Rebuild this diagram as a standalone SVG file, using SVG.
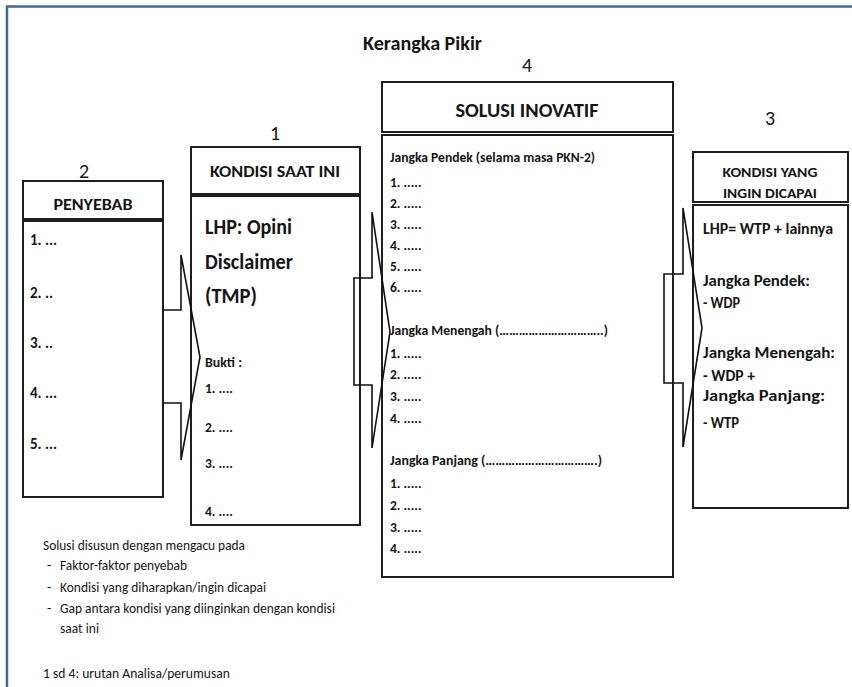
<svg xmlns="http://www.w3.org/2000/svg" width="852" height="687" viewBox="0 0 852 687">
<style>
.frame{stroke:#41679c;stroke-width:2.5;fill:none}
.box{fill:#fff;stroke:#1f1f1f;stroke-width:2}
.arr{fill:none;stroke:#111;stroke-width:1.6;stroke-linejoin:miter}
text{font-family:Carlito,Lato,"Open Sans","Liberation Sans",sans-serif;fill:#151515}
.num{font-size:20px;font-weight:400;text-anchor:middle}
.hd{font-weight:700;text-anchor:middle}
.b{font-weight:700}
.sb{font-weight:700;font-size:13.5px}
.note{font-size:14px;font-weight:400}
</style>
<rect width="852" height="687" fill="#fff"/>
<path class="frame" d="M7 687 V6.5 H852"/>
<text x="363" y="50" font-size="20" font-weight="700" textLength="119" lengthAdjust="spacingAndGlyphs">Kerangka Pikir</text>

<g id="penyebab">
<text class="num" x="84" y="178">2</text>
<rect class="box" x="23" y="181" width="140" height="38"/>
<text class="hd" x="93" y="210" font-size="15.5" textLength="79" lengthAdjust="spacingAndGlyphs">PENYEBAB</text>
<rect class="box" x="23" y="221" width="140" height="276"/>
<g class="b" font-size="15">
<text x="30" y="245">1.  ...</text>
<text x="30" y="298">2.  ..</text>
<text x="30" y="348">3.  ..</text>
<text x="30" y="398">4.  ...</text>
<text x="30" y="449">5.  ...</text>
</g>
</g>

<g id="kondisi-saat-ini">
<text class="num" x="275" y="140">1</text>
<rect class="box" x="191" y="147" width="169" height="47"/>
<text class="hd" x="275" y="177" font-size="16.5" textLength="130" lengthAdjust="spacingAndGlyphs">KONDISI SAAT INI</text>
<rect class="box" x="191" y="196" width="169" height="329"/>
<g class="b" font-size="22">
<text x="205" y="234" textLength="87" lengthAdjust="spacingAndGlyphs">LHP: Opini</text>
<text x="205" y="269" textLength="88" lengthAdjust="spacingAndGlyphs">Disclaimer</text>
<text x="205" y="303" textLength="52" lengthAdjust="spacingAndGlyphs">(TMP)</text>
</g>
<g class="b" font-size="13.5">
<text x="205" y="367" textLength="37" lengthAdjust="spacingAndGlyphs">Bukti :</text>
<text x="205" y="393">1.   ....</text>
<text x="205" y="432">2.   ....</text>
<text x="205" y="468">3.   ....</text>
<text x="205" y="516">4.   ....</text>
</g>
</g>

<g id="solusi-inovatif">
<text class="num" x="527" y="72">4</text>
<rect class="box" x="382" y="82" width="291" height="50"/>
<text class="hd" x="527" y="117" font-size="21" textLength="143" lengthAdjust="spacingAndGlyphs">SOLUSI INOVATIF</text>
<rect class="box" x="382" y="135" width="291" height="442"/>
<g class="sb">
<text x="390" y="162" textLength="205" lengthAdjust="spacingAndGlyphs">Jangka Pendek (selama masa PKN-2)</text>
<text x="390" y="187">1. .....</text>
<text x="390" y="208">2. .....</text>
<text x="390" y="229">3. .....</text>
<text x="390" y="250">4. .....</text>
<text x="390" y="271">5. .....</text>
<text x="390" y="292">6. .....</text>
<text x="390" y="335" textLength="218" lengthAdjust="spacingAndGlyphs">Jangka Menengah  (…………………………..)</text>
<text x="390" y="358">1. .....</text>
<text x="390" y="379">2. .....</text>
<text x="390" y="401">3. .....</text>
<text x="390" y="423">4. .....</text>
<text x="390" y="465" textLength="212" lengthAdjust="spacingAndGlyphs">Jangka Panjang  (…………………………….)</text>
<text x="390" y="488">1. .....</text>
<text x="390" y="510">2. .....</text>
<text x="390" y="532">3. .....</text>
<text x="390" y="553">4. .....</text>
</g>
</g>

<g id="kondisi-yang-ingin-dicapai">
<text class="num" x="770" y="125">3</text>
<rect class="box" x="693" y="152" width="155" height="50"/>
<g class="hd" font-size="14.5">
<text x="770" y="177" textLength="95" lengthAdjust="spacingAndGlyphs">KONDISI YANG</text>
<text x="770" y="198" textLength="94" lengthAdjust="spacingAndGlyphs">INGIN DICAPAI</text>
</g>
<rect class="box" x="693" y="205" width="155" height="303"/>
<g class="b" font-size="16">
<text x="703" y="234" textLength="130" lengthAdjust="spacingAndGlyphs">LHP= WTP + lainnya</text>
<text x="703" y="286" textLength="107" lengthAdjust="spacingAndGlyphs">Jangka Pendek:</text>
<text x="703" y="308" textLength="37" lengthAdjust="spacingAndGlyphs">- WDP</text>
<text x="703" y="358" textLength="132" lengthAdjust="spacingAndGlyphs">Jangka Menengah:</text>
<text x="703" y="381" textLength="52" lengthAdjust="spacingAndGlyphs">- WDP +</text>
<text x="703" y="401" textLength="122" lengthAdjust="spacingAndGlyphs">Jangka Panjang:</text>
<text x="703" y="428" textLength="36" lengthAdjust="spacingAndGlyphs">- WTP</text>
</g>
</g>

<g id="connectors">
<path class="arr" d="M163 310 H181 V255 L200 357 L181 460 V403 H163"/>
<path class="arr" d="M354 385 V278 H372 V212 L390 332 L372 448 V385 Z"/>
<path class="arr" d="M664 383 V274 H683 V208 L702 328 L683 447 V383 Z"/>
</g>

<g id="notes" class="note">
<text x="43" y="550" textLength="202" lengthAdjust="spacingAndGlyphs">Solusi disusun dengan mengacu pada</text>
<text x="47" y="570">-</text>
<text x="60" y="570" textLength="127" lengthAdjust="spacingAndGlyphs">Faktor-faktor penyebab</text>
<text x="47" y="592">-</text>
<text x="60" y="592" textLength="206" lengthAdjust="spacingAndGlyphs">Kondisi yang diharapkan/ingin dicapai</text>
<text x="47" y="613">-</text>
<text x="60" y="613" textLength="275" lengthAdjust="spacingAndGlyphs">Gap antara kondisi yang diinginkan dengan kondisi</text>
<text x="60" y="633" textLength="39" lengthAdjust="spacingAndGlyphs">saat ini</text>
<text x="43" y="678" textLength="187" lengthAdjust="spacingAndGlyphs">1 sd 4: urutan Analisa/perumusan</text>
</g>
</svg>
